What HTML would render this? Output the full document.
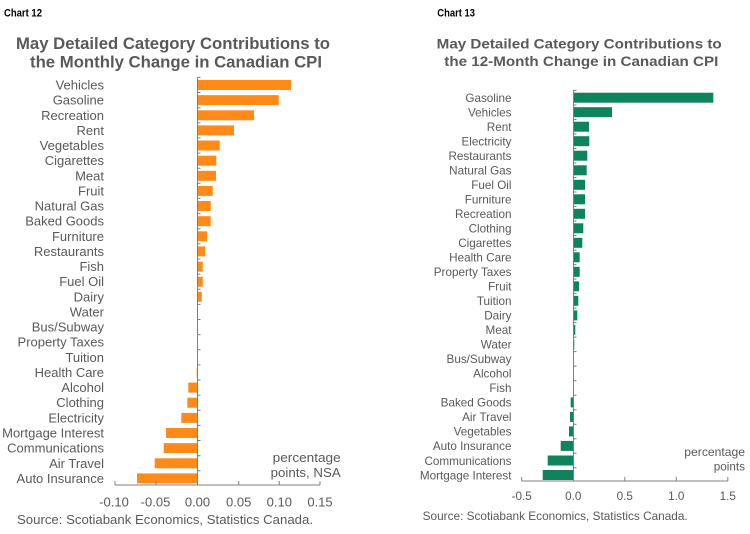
<!DOCTYPE html>
<html><head><meta charset="utf-8"><style>
html,body{margin:0;padding:0;background:#fff;}
svg{display:block;font-family:"Liberation Sans",Arial,sans-serif;}
.lab{fill:#595959;font-size:13px;}
.rlab{fill:#595959;font-size:11.7px;}
.t{fill:#595959;font-weight:bold;}
.ck{fill:#000;font-weight:bold;font-size:11px;font-family:"Liberation Sans Narrow","Liberation Sans",sans-serif;}
</style></head><body>
<svg width="750" height="534" viewBox="0 0 750 534" xmlns="http://www.w3.org/2000/svg">
<rect width="750" height="534" fill="#fff"/>
<!-- LEFT CHART -->
<text class="ck" x="4" y="16.5" textLength="38" lengthAdjust="spacingAndGlyphs">Chart 12</text>
<text class="t" x="16" y="49" font-size="16.3" textLength="314" lengthAdjust="spacingAndGlyphs">May Detailed Category Contributions to</text>
<text class="t" x="30" y="67.5" font-size="16.3" textLength="292" lengthAdjust="spacingAndGlyphs">the Monthly Change in Canadian CPI</text>
<g fill="#FF8A17">
<rect x="197.5" y="80" width="93.5" height="10"/>
<rect x="197.5" y="95.1" width="81.2" height="10"/>
<rect x="197.5" y="110.3" width="56.5" height="10"/>
<rect x="197.5" y="125.4" width="36.5" height="10"/>
<rect x="197.5" y="140.5" width="22.2" height="10"/>
<rect x="197.5" y="155.7" width="18.8" height="10"/>
<rect x="197.5" y="170.8" width="18.5" height="10"/>
<rect x="197.5" y="185.9" width="15.2" height="10"/>
<rect x="197.5" y="201" width="13.2" height="10"/>
<rect x="197.5" y="216.2" width="13.2" height="10"/>
<rect x="197.5" y="231.3" width="9.5" height="10"/>
<rect x="197.5" y="246.4" width="7.5" height="10"/>
<rect x="197.5" y="261.6" width="5.2" height="10"/>
<rect x="197.5" y="276.7" width="5.2" height="10"/>
<rect x="197.5" y="291.8" width="4.2" height="10"/>
<rect x="196.7" y="367.5" width="0.8" height="10"/>
<rect x="188.3" y="382.6" width="9.2" height="10"/>
<rect x="187.3" y="397.7" width="10.2" height="10"/>
<rect x="181.3" y="412.9" width="16.2" height="10"/>
<rect x="166" y="428" width="31.5" height="10"/>
<rect x="163.7" y="443.1" width="33.8" height="10"/>
<rect x="154.7" y="458.3" width="42.8" height="10"/>
<rect x="137" y="473.4" width="60.5" height="10"/>
</g>
<g stroke="#7f7f7f" stroke-width="1" fill="none">
<path d="M197.5 77V485M115 485H320"/>
<path d="M197.5 77.4h3M197.5 92.5h3M197.5 107.7h3M197.5 122.8h3M197.5 137.9h3M197.5 153.1h3M197.5 168.2h3M197.5 183.3h3M197.5 198.4h3M197.5 213.6h3M197.5 228.7h3M197.5 243.8h3M197.5 259h3M197.5 274.1h3M197.5 289.2h3M197.5 304.4h3M197.5 319.5h3M197.5 334.6h3M197.5 349.7h3M197.5 364.9h3M197.5 380h3M197.5 395.1h3M197.5 410.3h3M197.5 425.4h3M197.5 440.5h3M197.5 455.7h3M197.5 470.8h3"/>
<path d="M115 485v-4M156 485v-4M238.7 485v-4M279.3 485v-4M320 485v-4"/>
</g>
<g class="lab" text-anchor="end">
<text x="104" y="89.5">Vehicles</text>
<text x="104" y="104.6">Gasoline</text>
<text x="104" y="119.8">Recreation</text>
<text x="104" y="134.9">Rent</text>
<text x="104" y="150">Vegetables</text>
<text x="104" y="165.2">Cigarettes</text>
<text x="104" y="180.3">Meat</text>
<text x="104" y="195.4">Fruit</text>
<text x="104" y="210.5">Natural Gas</text>
<text x="104" y="225.7">Baked Goods</text>
<text x="104" y="240.8">Furniture</text>
<text x="104" y="255.9">Restaurants</text>
<text x="104" y="271.1">Fish</text>
<text x="104" y="286.2">Fuel Oil</text>
<text x="104" y="301.3">Dairy</text>
<text x="104" y="316.5">Water</text>
<text x="104" y="331.6">Bus/Subway</text>
<text x="104" y="346.7">Property Taxes</text>
<text x="104" y="361.8">Tuition</text>
<text x="104" y="377">Health Care</text>
<text x="104" y="392.1">Alcohol</text>
<text x="104" y="407.2">Clothing</text>
<text x="104" y="422.4">Electricity</text>
<text x="104" y="437.5">Mortgage Interest</text>
<text x="104" y="452.6">Communications</text>
<text x="104" y="467.8">Air Travel</text>
<text x="104" y="482.9">Auto Insurance</text>
</g>
<g class="lab" text-anchor="middle" font-size="12.5">
<text x="114" y="506.5">-0.10</text>
<text x="155.5" y="506.5">-0.05</text>
<text x="197.5" y="506.5">0.00</text>
<text x="238.7" y="506.5">0.05</text>
<text x="279.3" y="506.5">0.10</text>
<text x="320" y="506.5">0.15</text>
</g>
<text class="lab" x="340.7" y="462" text-anchor="end" textLength="68" lengthAdjust="spacingAndGlyphs">percentage</text>
<text class="lab" x="340.7" y="477" text-anchor="end" textLength="70" lengthAdjust="spacingAndGlyphs">points, NSA</text>
<text class="lab" x="17" y="524" font-size="12.5" textLength="296" lengthAdjust="spacingAndGlyphs">Source: Scotiabank Economics, Statistics Canada.</text>

<!-- RIGHT CHART -->
<text class="ck" x="437.3" y="16.5" textLength="37.7" lengthAdjust="spacingAndGlyphs">Chart 13</text>
<text class="t" x="436.7" y="48.3" font-size="14" textLength="285" lengthAdjust="spacingAndGlyphs">May Detailed Category Contributions to</text>
<text class="t" x="444.3" y="66" font-size="14" textLength="274" lengthAdjust="spacingAndGlyphs">the 12-Month Change in Canadian CPI</text>
<g fill="#0F835B">
<rect x="573.5" y="92.7" width="139.8" height="10"/>
<rect x="573.5" y="107.2" width="38.5" height="10"/>
<rect x="573.5" y="121.7" width="15.5" height="10"/>
<rect x="573.5" y="136.2" width="15.8" height="10"/>
<rect x="573.5" y="150.7" width="13.8" height="10"/>
<rect x="573.5" y="165.3" width="13.2" height="10"/>
<rect x="573.5" y="179.8" width="11.5" height="10"/>
<rect x="573.5" y="194.3" width="11.5" height="10"/>
<rect x="573.5" y="208.8" width="11.5" height="10"/>
<rect x="573.5" y="223.3" width="9.8" height="10"/>
<rect x="573.5" y="237.8" width="8.8" height="10"/>
<rect x="573.5" y="252.3" width="6.2" height="10"/>
<rect x="573.5" y="266.8" width="6.2" height="10"/>
<rect x="573.5" y="281.3" width="5.5" height="10"/>
<rect x="573.5" y="295.8" width="4.8" height="10"/>
<rect x="573.5" y="310.4" width="3.8" height="10"/>
<rect x="573.5" y="324.9" width="1.8" height="10"/>
<rect x="573.5" y="339.4" width="0.8" height="10"/>
<rect x="570.7" y="397.4" width="2.8" height="10"/>
<rect x="570" y="411.9" width="3.5" height="10"/>
<rect x="569" y="426.4" width="4.5" height="10"/>
<rect x="560.7" y="440.9" width="12.8" height="10"/>
<rect x="547.7" y="455.5" width="25.8" height="10"/>
<rect x="542.7" y="470" width="30.8" height="10"/>
</g>
<g stroke="#7f7f7f" stroke-width="1" fill="none">
<path d="M573.5 90V481M521.7 481H727.8"/>
<path d="M573.5 90.4h3M573.5 105h3M573.5 119.5h3M573.5 134h3M573.5 148.5h3M573.5 163h3M573.5 177.5h3M573.5 192h3M573.5 206.5h3M573.5 221h3M573.5 235.5h3M573.5 250.1h3M573.5 264.6h3M573.5 279.1h3M573.5 293.6h3M573.5 308.1h3M573.5 322.6h3M573.5 337.1h3M573.5 351.6h3M573.5 366.1h3M573.5 380.6h3M573.5 395.2h3M573.5 409.7h3M573.5 424.2h3M573.5 438.7h3M573.5 453.2h3M573.5 467.7h3"/>
<path d="M521.7 481v-4M624.8 481v-4M676.3 481v-4M727.8 481v-4"/>
</g>
<g class="rlab" text-anchor="end">
<text x="511.5" y="102">Gasoline</text>
<text x="511.5" y="116.5">Vehicles</text>
<text x="511.5" y="131">Rent</text>
<text x="511.5" y="145.5">Electricity</text>
<text x="511.5" y="160">Restaurants</text>
<text x="511.5" y="174.6">Natural Gas</text>
<text x="511.5" y="189.1">Fuel Oil</text>
<text x="511.5" y="203.6">Furniture</text>
<text x="511.5" y="218.1">Recreation</text>
<text x="511.5" y="232.6">Clothing</text>
<text x="511.5" y="247.1">Cigarettes</text>
<text x="511.5" y="261.6">Health Care</text>
<text x="511.5" y="276.1">Property Taxes</text>
<text x="511.5" y="290.6">Fruit</text>
<text x="511.5" y="305.1">Tuition</text>
<text x="511.5" y="319.7">Dairy</text>
<text x="511.5" y="334.2">Meat</text>
<text x="511.5" y="348.7">Water</text>
<text x="511.5" y="363.2">Bus/Subway</text>
<text x="511.5" y="377.7">Alcohol</text>
<text x="511.5" y="392.2">Fish</text>
<text x="511.5" y="406.7">Baked Goods</text>
<text x="511.5" y="421.2">Air Travel</text>
<text x="511.5" y="435.7">Vegetables</text>
<text x="511.5" y="450.2">Auto Insurance</text>
<text x="511.5" y="464.8">Communications</text>
<text x="511.5" y="479.3">Mortgage Interest</text>
</g>
<g class="rlab" text-anchor="middle" font-size="12">
<text x="521.7" y="500">-0.5</text>
<text x="573.3" y="500">0.0</text>
<text x="624.8" y="500">0.5</text>
<text x="676.3" y="500">1.0</text>
<text x="727.8" y="500">1.5</text>
</g>
<text class="rlab" x="745" y="456" font-size="12" text-anchor="end" textLength="60.7" lengthAdjust="spacingAndGlyphs">percentage</text>
<text class="rlab" x="745" y="470.5" font-size="12" text-anchor="end">points</text>
<text class="rlab" x="422.7" y="520" font-size="11.5" textLength="265" lengthAdjust="spacingAndGlyphs">Source: Scotiabank Economics, Statistics Canada.</text>
</svg>
</body></html>
